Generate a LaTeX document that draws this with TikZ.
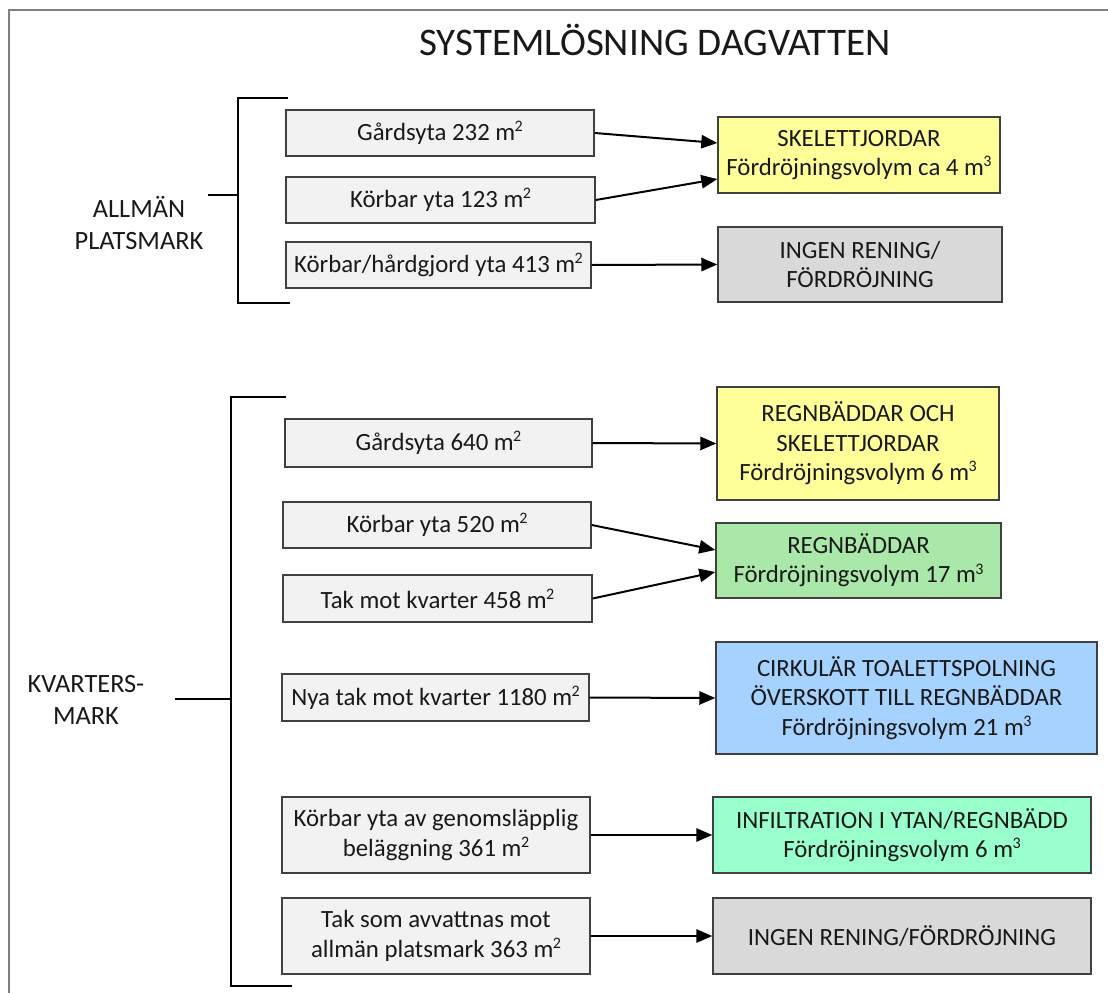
\documentclass[tikz,border=0pt]{standalone}
\usepackage{fontspec}
\setmainfont{Carlito}
\usetikzlibrary{arrows.meta}
\definecolor{lgray}{HTML}{F2F2F2}
\definecolor{dgray}{HTML}{D9D9D9}
\definecolor{yel}{HTML}{FFFF99}
\definecolor{grn}{HTML}{A9E8A9}
\definecolor{blu}{HTML}{A6D2FF}
\definecolor{mint}{HTML}{99FFCC}
\definecolor{edge}{HTML}{404040}
\definecolor{frame}{HTML}{808080}
\newcommand{\supx}[1]{\kern-0.4pt\raisebox{0.36em}{\fontsize{12pt}{12pt}\selectfont #1}}
\tikzset{
  box/.style={draw=edge, line width=1.1pt, inner sep=0pt, align=center,
    font=\fontsize{18.6pt}{22pt}\selectfont, text=black!90},
  src/.style={box, fill=lgray},
  arr/.style={line width=1.5pt, -{Triangle[length=12pt,width=10pt]}},
  brk/.style={line width=2.2pt},
  side/.style={align=center, font=\fontsize{19.8pt}{24pt}\selectfont, text=black!90},
}
\begin{document}
\begin{tikzpicture}[x=0.75pt, y=-0.75pt]
\useasboundingbox (0,0) rectangle (1108,993);
% frame
\draw[frame, line width=1.5pt] (9,993) -- (9,10) -- (1108,10);
% title
\node[font=\fontsize{29.3pt}{34pt}\selectfont, text=black!90] (title) at (655,40) {SYSTEMLÖSNING DAGVATTEN};

% side labels
\node[side] (allman) at (139,223) {ALLMÄN\\PLATSMARK};
\node[side] (kvarter) at (86,700) {KVARTERS-\\MARK};

% brackets
\coordinate (b1a) at (288,98); \coordinate (b1b) at (238,98);
\coordinate (b1c) at (238,303); \coordinate (b1d) at (290,303);
\coordinate (b1t) at (208,195); \coordinate (b1m) at (238,195);
\draw[brk] (b1a) -- (b1b) -- (b1c) -- (b1d);
\draw[brk] (b1t) -- (b1m);
\coordinate (b2a) at (286,397); \coordinate (b2b) at (231,397);
\coordinate (b2c) at (231,986); \coordinate (b2d) at (292,986);
\coordinate (b2t) at (175,699); \coordinate (b2m) at (231,699);
\draw[brk] (b2a) -- (b2b) -- (b2c) -- (b2d);
\draw[brk] (b2t) -- (b2m);

% upper sources
\node[src, minimum width=308*0.75pt, minimum height=46*0.75pt] (l1) at (440,133) {Gårdsyta 232 m\supx{2}};
\node[src, minimum width=309*0.75pt, minimum height=46*0.75pt] (l2) at (440.5,200) {Körbar yta 123 m\supx{2}};
\node[src, minimum width=305*0.75pt, minimum height=46*0.75pt] (l3) at (438.5,265) {Körbar/hårdgjord yta 413 m\supx{2}};
% upper targets
\node[box, fill=yel, minimum width=282*0.75pt, minimum height=76*0.75pt] (sk) at (859,155) {SKELETTJORDAR\\Fördröjningsvolym ca 4 m\supx{3}};
\node[box, fill=dgray, minimum width=284*0.75pt, minimum height=75*0.75pt] (ing1) at (860,264.5) {INGEN RENING/\\FÖRDRÖJNING};

% lower sources
\node[src, minimum width=307*0.75pt, minimum height=48*0.75pt] (L1) at (438.5,443) {Gårdsyta 640 m\supx{2}};
\node[src, minimum width=308*0.75pt, minimum height=46*0.75pt] (L2) at (437,525) {Körbar yta 520 m\supx{2}};
\node[src, minimum width=309*0.75pt, minimum height=47*0.75pt] (L3) at (437.5,598.5) {Tak mot kvarter 458 m\supx{2}};
\node[src, minimum width=307*0.75pt, minimum height=47*0.75pt] (L4) at (435.5,697.5) {Nya tak mot kvarter 1180 m\supx{2}};
\node[src, minimum width=308*0.75pt, minimum height=76*0.75pt] (L5) at (436,835) {Körbar yta av genomsläpplig\\beläggning 361 m\supx{2}};
\node[src, minimum width=308*0.75pt, minimum height=76*0.75pt] (L6) at (436,936) {Tak som avvattnas mot\\allmän platsmark 363 m\supx{2}};
% lower targets
\node[box, fill=yel, minimum width=282*0.75pt, minimum height=113*0.75pt] (R1) at (858,443.5) {REGNBÄDDAR OCH\\SKELETTJORDAR\\Fördröjningsvolym 6 m\supx{3}};
\node[box, fill=grn, minimum width=285*0.75pt, minimum height=75*0.75pt] (R2) at (858.5,560.5) {REGNBÄDDAR\\Fördröjningsvolym 17 m\supx{3}};
\node[box, fill=blu, minimum width=381*0.75pt, minimum height=112*0.75pt] (R3) at (906.5,698) {CIRKULÄR TOALETTSPOLNING\\ÖVERSKOTT TILL REGNBÄDDAR\\Fördröjningsvolym 21 m\supx{3}};
\node[box, fill=mint, minimum width=378*0.75pt, minimum height=76*0.75pt] (R4) at (902,835) {INFILTRATION I YTAN/REGNBÄDD\\Fördröjningsvolym 6 m\supx{3}};
\node[box, fill=dgray, minimum width=378*0.75pt, minimum height=76*0.75pt] (R5) at (902,936) {INGEN RENING/FÖRDRÖJNING};

% arrows
\draw[arr] (l1.east) -- ([yshift=9pt]sk.west);
\draw[arr] (l2.east) -- ([yshift=-18pt]sk.west);
\draw[arr] (l3.east) -- (ing1.west);
\draw[arr] (L1.east) -- (R1.west);
\draw[arr] (L2.east) -- ([yshift=7.9pt]R2.west);
\draw[arr] (L3.east) -- ([yshift=-8.6pt]R2.west);
\draw[arr] (L4.east) -- (R3.west);
\draw[arr] (L5.east) -- (R4.west);
\draw[arr] (L6.east) -- (R5.west);
\end{tikzpicture}
\end{document}
